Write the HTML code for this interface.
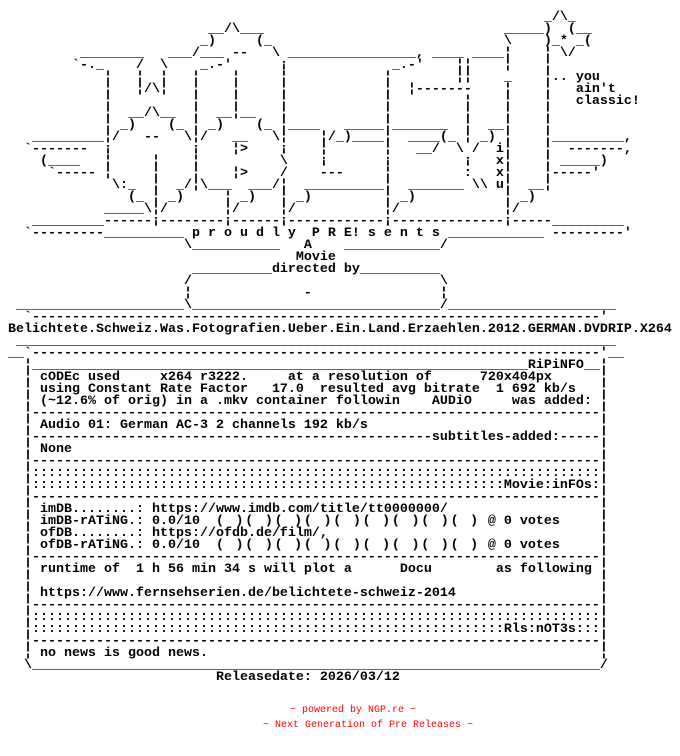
<!DOCTYPE html>
<html><head><meta charset="utf-8"><style>
html,body{margin:0;padding:0;background:#fff;width:680px;height:756px;overflow:hidden}
pre{margin:0;padding:0;font-family:"Liberation Mono",monospace;font-weight:bold;font-size:13.333px;line-height:12px;color:#000;white-space:pre;position:absolute;left:0;top:12px}
.ls{letter-spacing:1.7778px}
.red{position:absolute;font-family:"Liberation Mono",monospace;font-size:10px;line-height:12px;color:#f00;white-space:pre}
</style></head><body>
<pre>
                                                                    _/\_
                          __/\___                              _____)  (__
                         _)     (_                             \    )_* _(
          ________   ___/___ --   \ ________________, ____ ____¦    ¦ \/
         `-._    /  \    _.-'      ¡             _.-'    ¦¦    ¦    ¦
             ¦   ¦  ¦   ¦    ¦     ¦            ¦        ¦¦    _    ¦.. you
             ¦   ¦/\¦   ¦    ¦     ¦            ¦  ¦-------    ¦    ¦   ain't
             ¦          ¦    ¦     ¦            ¦         ¦    ¦    ¦   classic!
             ¦  __/\__  ¦  __¦__   ¦            ¦         ¦    ¦    ¦
             ¦ _)    (_ ¦ _)    (_ ¦____   _____¦_______  ¦  __¦    ¦
    _________¦/   --   \¦/   __   \¦    ¦/_)____¦  ____(_ ¦ _) ¦    ¦_________,
   `-------  ¡          ¡    ¦>    ¡    ¦       ¦   __/  \ /  i¦    ¦  -------,
     (____   ¦     ¦    ¦          \    ¡       ¡         ¡   x¦    ¦ _____)
      `----- ¦     ¦    ¦    ¦>    /    ---     ¦         :   x¦    ¦-----'
              \:_  ¦  _/¦\___  ___/¦  __________¦  _______ \\ u¦  __¦
                (_ ¦ _)     ¦ _)   ¦ _)         ¦ _)           ¦ _)
             _____\¦/       ¦/     ¦/           ¦/             ¦/
    _________------¡--------¡------¡------------¡--------------¡-----_________
   `---------__________ p r o u d l y  P R E! s e n t s ____________ ---------'
                       \___________   A    ____________/
                                     Movie
                        __________directed by__________
                       /                               \
                       ¦              -                ¦
  _____________________\_______________________________/_____________________
   `-----------------------------------------------------------------------'
 Belichtete.Schweiz.Was.Fotografien.Ueber.Ein.Land.Erzaehlen.2012.GERMAN.DVDRIP.X264
  ___________________________________________________________________________
 __`-----------------------------------------------------------------------'__
   ¦______________________________________________________________RiPiNFO__¦
   ¦ cODEc used     x264 r3222.     at a resolution of      720x404px      ¦
   ¦ using Constant Rate Factor   17.0  resulted avg bitrate  1 692 kb/s   ¦
   ¦ (~12.6% of orig) in a .mkv container followin    AUDiO     was added: ¦
   ¦-----------------------------------------------------------------------¦
   ¦ Audio 01: German AC-3 2 channels 192 kb/s                             ¦
   ¦--------------------------------------------------subtitles-added:-----¦
   ¦ None                                                                  ¦
   ¦-----------------------------------------------------------------------¦
   ¦:::::::::::::::::::::::::::::::::::::::::::::::::::::::::::::::::::::::¦
   ¦:::::::::::::::::::::::::::::::::::::::::::::::::::::::::::Movie:inFOs:¦
   ¦-----------------------------------------------------------------------¦
   ¦ imDB........: https://www.imdb.com/title/tt0000000/                   ¦
   ¦ imDB-rATiNG.: 0.0/10  <span class="ls">( )( )( )( )( )( )( )( )( )</span> @ 0 votes     ¦
   ¦ ofDB........: https://ofdb.de/film/,                                  ¦
   ¦ ofDB-rATiNG.: 0.0/10  <span class="ls">( )( )( )( )( )( )( )( )( )</span> @ 0 votes     ¦
   ¦-----------------------------------------------------------------------¦
   ¦ runtime of  1 h 56 min 34 s will plot a      Docu        as following ¦
   ¦                                                                       ¦
   ¦ https://www.fernsehserien.de/belichtete-schweiz-2014                  ¦
   ¦-----------------------------------------------------------------------¦
   ¦:::::::::::::::::::::::::::::::::::::::::::::::::::::::::::::::::::::::¦
   ¦:::::::::::::::::::::::::::::::::::::::::::::::::::::::::::Rls:nOT3s:::¦
   ¦-----------------------------------------------------------------------¦
   ¦ no news is good news.                                                 ¦
   \_______________________________________________________________________/
                           Releasedate: 2026/03/12
</pre>
<div class="red" style="left:290px;top:705px">~ powered by NGP.re ~</div>
<div class="red" style="left:263px;top:720px">~ Next Generation of Pre Releases ~</div>
</body></html>
